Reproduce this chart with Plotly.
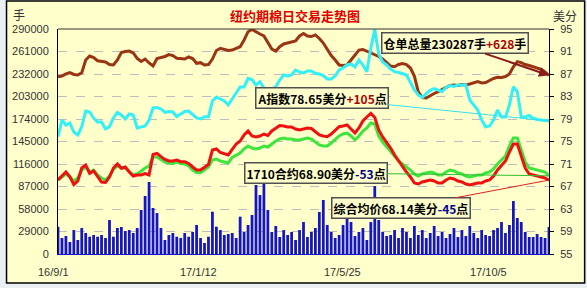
import plotly.graph_objects as go

# ---------------- data ----------------
date_labels = ["16/9/1", "17/1/12", "17/5/25", "17/10/5"]
left_ticks = [0, 29000, 58000, 87000, 116000, 145000, 174000, 203000, 232000, 261000, 290000]
right_ticks = [55, 59, 63, 67, 71, 75, 79, 83, 87, 91, 95]

stock = [228500, 229400, 232000, 233900, 231400, 230700, 233700, 250000, 255200, 253300,
         249100, 248100, 247500, 244200, 243600, 250000, 259700, 261000, 261600, 259100,
         252200, 248100, 251300, 246200, 242300, 252000, 253300, 254600, 257100, 255800,
         252200, 251300, 251300, 253900, 252000, 245800, 246600, 243600, 244200, 251300,
         262300, 265100, 263600, 262300, 262900, 264900, 267200, 275800, 286500, 289400,
         286100, 283600, 281000, 271900, 264200, 261600, 267200, 270700, 271900, 273200,
         274500, 281000, 284200, 281000, 280300, 282300, 277800, 271900, 262900, 255800,
         250000, 243600, 243000, 243600, 250000, 255800, 262900, 263600, 261600, 259100,
         257100, 254600, 251300, 246200, 242300, 241400, 244200, 245500, 244200, 239700,
         229400, 208800, 201700, 201100, 204300, 206900, 209200, 212000, 214600, 217200,
         217800, 217200, 218500, 217800, 219100, 220400, 222100, 220400, 221000, 223600,
         226200, 227700, 227500, 228800, 232000, 241400, 247900, 246600, 244200, 243000,
         241400, 239700, 238000, 234500, 230287]

a_index = [75.85, 78.82, 77.93, 78.29, 76.69, 76.16, 77.63, 80.42, 80.24, 79.18,
           78.47, 78.47, 77.22, 77.63, 79.18, 80.16, 79.71, 79.00, 79.89, 79.71,
           77.40, 77.63, 77.76, 78.82, 80.96, 81.04, 80.78, 80.16, 80.33, 80.24,
           79.44, 79.89, 80.33, 80.42, 79.80, 79.18, 79.00, 79.41, 79.41, 82.20,
           82.91, 82.56, 82.20, 81.49, 82.56, 83.62, 84.69, 84.69, 86.24, 86.02,
           85.04, 85.63, 84.51, 84.16, 84.33, 84.74, 85.93, 86.82, 86.64, 86.82,
           87.71, 87.36, 87.18, 87.53, 87.53, 87.12, 87.00, 86.73, 86.11, 86.11,
           86.64, 87.71, 88.07, 88.60, 88.78, 88.24, 89.49, 88.60, 87.41, 91.62,
           94.90, 90.56, 89.13, 88.60, 87.89, 87.41, 87.27, 87.09, 86.82, 85.40,
           84.16, 83.27, 82.82, 83.53, 84.09, 84.42, 84.16, 83.89, 84.60, 84.96,
           84.78, 85.04, 85.04, 85.04, 82.38, 81.49, 80.60, 78.82, 77.63, 77.76,
           78.82, 80.60, 79.36, 79.36, 81.49, 84.74, 83.85, 79.36, 79.36, 79.62,
           79.13, 78.91, 78.82, 78.64, 78.65]

avg_price = [68.16, 68.87, 69.58, 68.74, 67.36, 67.98, 70.29, 70.82, 69.35, 69.76,
             68.74, 67.80, 67.71, 68.69, 70.29, 71.00, 70.24, 70.47, 69.58, 68.87,
             69.04, 69.04, 69.31, 69.04, 72.69, 72.90, 72.30, 71.80, 71.53, 71.53,
             71.71, 71.41, 71.41, 71.09, 70.47, 69.93, 69.93, 70.38, 70.91, 73.49,
             73.67, 73.04, 72.87, 72.60, 73.58, 74.56, 75.09, 76.16, 76.87, 75.98,
             75.80, 75.98, 76.33, 76.07, 76.87, 77.40, 77.84, 77.76, 77.58, 77.58,
             77.22, 77.04, 77.22, 77.40, 77.31, 76.69, 76.16, 75.98, 75.85, 76.33,
             77.04, 77.63, 77.76, 77.93, 77.22, 76.51, 77.40, 78.64, 79.36, 80.01,
             79.27, 77.04, 75.80, 74.91, 73.84, 72.60, 71.53, 70.64, 69.58, 68.69,
             67.62, 67.44, 67.80, 67.98, 68.16, 67.98, 67.62, 67.62, 68.16, 68.51,
             68.33, 67.98, 67.80, 67.44, 67.27, 67.44, 67.62, 67.62, 67.98, 68.16,
             68.87, 69.93, 70.64, 71.53, 73.13, 74.56, 74.56, 72.60, 70.29, 69.22,
             69.04, 68.87, 68.69, 68.51, 68.14]

c1710 = [68.16, 68.69, 69.22, 68.69, 67.98, 68.51, 69.93, 70.47, 69.58, 69.93,
         69.04, 68.51, 68.16, 68.87, 70.11, 70.64, 70.29, 70.29, 69.58, 69.04,
         69.22, 69.76, 70.29, 70.64, 72.24, 72.24, 71.80, 71.36, 71.18, 71.09,
         71.36, 71.09, 71.00, 70.64, 69.93, 69.49, 69.45, 69.93, 70.47, 71.71,
         71.89, 71.53, 71.36, 71.18, 72.16, 72.60, 72.96, 73.67, 74.20, 73.84,
         73.67, 73.84, 74.20, 74.02, 74.56, 75.09, 75.44, 75.62, 75.44, 75.44,
         75.27, 75.27, 75.44, 75.62, 75.44, 74.91, 74.38, 74.20, 74.20, 74.73,
         75.44, 75.98, 76.33, 76.51, 75.98, 75.27, 75.98, 76.87, 77.40, 78.29,
         78.11, 75.98, 74.91, 74.02, 73.13, 72.24, 71.53, 71.00, 70.47, 69.93,
         69.22, 68.87, 69.22, 69.40, 69.58, 69.40, 69.04, 69.04, 69.58, 69.93,
         69.76, 69.40, 69.22, 68.87, 68.69, 68.87, 69.04, 69.04, 69.40, 69.58,
         70.11, 71.00, 71.71, 72.42, 74.20, 75.62, 75.62, 73.67, 71.36, 70.29,
         70.11, 69.93, 69.76, 69.58, 68.90]

volume = [35200, 20600, 23200, 15500, 30900, 18000, 33500, 27100, 22300, 24500,
          22300, 24500, 20600, 43800, 22300, 33500, 34800, 29600, 30900, 27100,
          33500, 56700, 74800, 92800, 59300, 52800, 33500, 18000, 24500, 27100,
          22300, 20600, 27100, 22300, 28400, 37400, 20600, 14200, 22300, 54500,
          35200, 30900, 24500, 25800, 27100, 20600, 48100, 28400, 37400, 50300,
          88900, 76000, 108300, 56700, 28400, 36100, 21900, 30900, 24500, 28400,
          18000, 30900, 41200, 21900, 28400, 33500, 54100, 69600, 37400, 28400,
          20600, 24500, 37400, 63200, 41200, 23200, 28400, 33500, 18000, 41200,
          87600, 43800, 28400, 23200, 24500, 30900, 20600, 33500, 28400, 20600,
          36100, 24500, 30900, 20600, 27100, 36100, 23200, 28400, 20600, 25800,
          33500, 21900, 30900, 23200, 36100, 27100, 20600, 30900, 24500, 23200,
          30900, 33500, 41200, 27100, 37400, 68300, 46400, 41200, 28400, 21900,
          21900, 25800, 21900, 20600, 34800]

days = list(range(len(stock)))

# ---------------- layout helpers (pixel -> paper) ----------------
L, R, T, B = 53, 549, 29, 254
W, H = 587, 288
def pxx(x):
    return (x - L) / (R - L)
def pxy(y):
    return (B - y) / (B - T)

BG = "#FFFFCC"
fig = go.Figure()
fig.add_trace(go.Bar(x=days, y=volume, marker_color="#1414C8", marker_line_width=0,
                     yaxis="y", hoverinfo="skip"))
fig.add_trace(go.Scatter(x=days, y=stock, mode="lines", line=dict(color="#9A3412", width=3),
                         yaxis="y"))
fig.add_trace(go.Scatter(x=days, y=a_index, mode="lines", line=dict(color="#33F0F8", width=3),
                         yaxis="y2"))
fig.add_trace(go.Scatter(x=days, y=c1710, mode="lines", line=dict(color="#3CE63C", width=3),
                         yaxis="y2"))
fig.add_trace(go.Scatter(x=days, y=avg_price, mode="lines", line=dict(color="#F01010", width=3),
                         yaxis="y2"))

tickfont = dict(family="Liberation Sans, Arial", size=11, color="#333333")
fig.update_layout(
    width=W, height=H, autosize=False,
    margin=dict(l=L, r=W - R, t=T, b=H - B, pad=0),
    paper_bgcolor="#EAEFF4", plot_bgcolor=BG,
    showlegend=False, bargap=0.3,
    xaxis=dict(range=[0, len(days) - 1], showticklabels=False, ticks="", showgrid=False,
               zeroline=False, showline=True, linecolor="#1414C8", linewidth=1),
    yaxis=dict(range=[0, 290000], tickvals=left_ticks, tickformat="d", tickfont=tickfont,
               showgrid=True, gridcolor="#BDBDBD", griddash="dash", gridwidth=1,
               zeroline=False, showline=True, linecolor="#000000", linewidth=1,
               ticks="", ticklabelstandoff=6),
    yaxis2=dict(range=[55, 95], tickvals=right_ticks, overlaying="y", side="right",
                tickfont=tickfont, showgrid=False, zeroline=False, showline=True,
                linecolor="#000000", linewidth=1, ticks="outside", ticklen=4,
                tickcolor="#000000", ticklabelstandoff=4),
)

# frame and top border
fig.add_shape(type="rect", xref="paper", yref="paper", x0=pxx(1), x1=pxx(585), y0=pxy(283), y1=pxy(1),
              line=dict(color="#000000", width=1.5), fillcolor=BG, layer="below")
fig.add_shape(type="line", xref="paper", yref="paper", x0=0, x1=1, y0=1, y1=1,
              line=dict(color="#333333", width=1))

cjk = "Noto Sans CJK SC"
free = dict(xref="paper", yref="paper", showarrow=False, xanchor="center", yanchor="middle")
# title and unit labels
fig.add_annotation(text="<b>纽约期棉日交易走势图</b>", x=pxx(292), y=pxy(15),
                   font=dict(family=cjk, size=13, color="#E00000"), **free)
fig.add_annotation(text="手", x=pxx(14), y=pxy(14),
                   font=dict(family=cjk, size=12, color="#333333"), **free)
fig.add_annotation(text="美分", x=pxx(565), y=pxy(15),
                   font=dict(family=cjk, size=12, color="#333333"), **free)
for lab, xp in zip(date_labels, [48, 195, 340, 488]):
    fig.add_annotation(text=lab, x=pxx(xp), y=pxy(272), font=tickfont, **free)

# callout boxes
box = dict(bgcolor=BG, bordercolor="#505050", borderwidth=1.5, borderpad=1,
           font=dict(family=cjk, size=12, color="#000000"), showarrow=True)
last = len(days) - 1
fig.add_annotation(text="<b>仓单总量230287手<span style='color:#B00000'>+628</span>手</b>",
                   x=last, y=stock[-1], xref="x", yref="y", ax=-94, ay=-32,
                   arrowhead=2, arrowsize=1, arrowwidth=2, arrowcolor="#8B1A1A", **box)
fig.add_annotation(text="<b>A指数78.65美分<span style='color:#B00000'>+105</span>点</b>",
                   x=last, y=a_index[-1], xref="x", yref="y2", ax=-227, ay=-23,
                   arrowhead=0, arrowwidth=1, arrowcolor="#33E0F0", **box)
fig.add_annotation(text="<b>1710合约68.90美分<span style='color:#000090'>-53</span>点</b>",
                   x=last, y=c1710[-1], xref="x", yref="y2", ax=-233, ay=-3,
                   arrowhead=0, arrowwidth=1, arrowcolor="#30C030", **box)
fig.add_annotation(text="<b>综合均价68.14美分<span style='color:#000090'>-45</span>点</b>",
                   x=last, y=avg_price[-1], xref="x", yref="y2", ax=-148, ay=28,
                   arrowhead=0, arrowwidth=1, arrowcolor="#E02020", **box)

fig.write_html("out.html")
